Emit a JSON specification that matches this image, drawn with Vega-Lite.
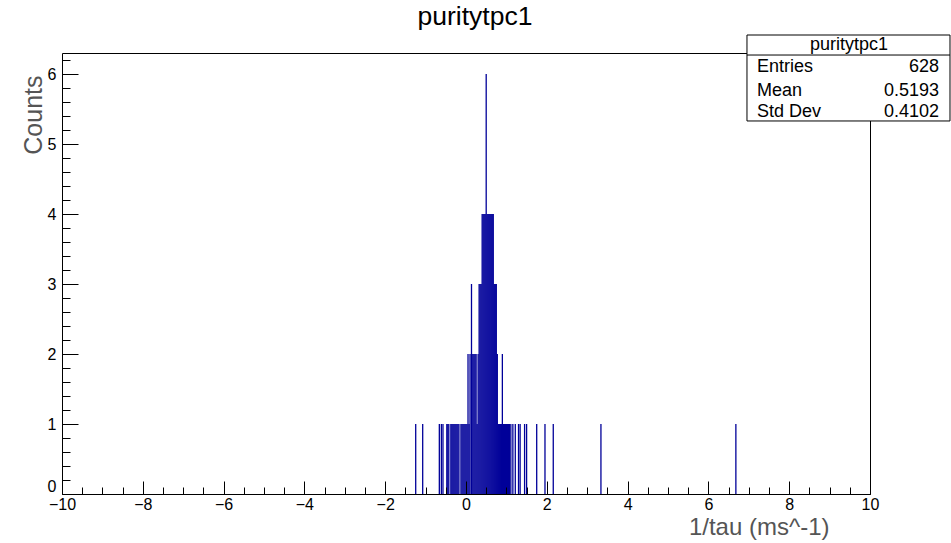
{
  "$schema": "https://vega.github.io/schema/vega-lite/v6.json",
  "width": 808,
  "height": 441,
  "autosize": {"type": "none"},
  "padding": {"left": 62, "top": 53, "right": 81, "bottom": 49},
  "background": "white",
  "config": {
    "view": {"stroke": null},
    "font": "Liberation Sans",
    "axis": {"grid": false, "labelFont": "Liberation Sans", "titleFont": "Liberation Sans", "titleFontWeight": "normal", "labelColor": "black", "tickColor": "black", "domainColor": "black", "tickWidth": 1, "domainWidth": 1},
    "text": {"font": "Liberation Sans"}
  },
  "title": {"text": "puritytpc1", "font": "Liberation Sans", "fontSize": 26.5, "fontWeight": "normal", "color": "black", "anchor": "middle", "frame": "group", "dx": 9, "offset": 4},
  "datasets": {
    "hist": [
      {"x": -1.245, "n": 1}, {"x": -1.072, "n": 1}, {"x": -0.66, "n": 1}, {"x": -0.61, "n": 1}, {"x": -0.57, "n": 1},
      {"x": -0.475, "n": 1}, {"x": -0.45, "n": 1}, {"x": -0.425, "n": 1}, {"x": -0.375, "n": 1}, {"x": -0.35, "n": 1},
      {"x": -0.325, "n": 1}, {"x": -0.3, "n": 1}, {"x": -0.275, "n": 1}, {"x": -0.25, "n": 1}, {"x": -0.225, "n": 1},
      {"x": -0.2, "n": 1}, {"x": -0.175, "n": 1}, {"x": -0.125, "n": 1}, {"x": -0.1, "n": 1}, {"x": -0.075, "n": 1},
      {"x": -0.05, "n": 1}, {"x": -0.025, "n": 1}, {"x": 0.0, "n": 1}, {"x": 0.025, "n": 1}, {"x": 0.05, "n": 2},
      {"x": 0.075, "n": 1}, {"x": 0.1, "n": 2}, {"x": 0.136, "n": 3}, {"x": 0.15, "n": 2}, {"x": 0.175, "n": 2},
      {"x": 0.2, "n": 2}, {"x": 0.225, "n": 2}, {"x": 0.25, "n": 2}, {"x": 0.275, "n": 1}, {"x": 0.3, "n": 2},
      {"x": 0.325, "n": 3}, {"x": 0.35, "n": 3}, {"x": 0.375, "n": 3}, {"x": 0.4, "n": 4}, {"x": 0.425, "n": 4},
      {"x": 0.45, "n": 4}, {"x": 0.475, "n": 4}, {"x": 0.5, "n": 6}, {"x": 0.525, "n": 4}, {"x": 0.55, "n": 4},
      {"x": 0.575, "n": 4}, {"x": 0.6, "n": 4}, {"x": 0.625, "n": 4}, {"x": 0.65, "n": 4}, {"x": 0.675, "n": 4},
      {"x": 0.7, "n": 3}, {"x": 0.725, "n": 3}, {"x": 0.75, "n": 3}, {"x": 0.775, "n": 2}, {"x": 0.8, "n": 1},
      {"x": 0.825, "n": 1}, {"x": 0.85, "n": 1}, {"x": 0.875, "n": 1}, {"x": 0.9, "n": 2}, {"x": 0.925, "n": 1},
      {"x": 0.95, "n": 1}, {"x": 0.975, "n": 1}, {"x": 1.0, "n": 1}, {"x": 1.025, "n": 1}, {"x": 1.05, "n": 1},
      {"x": 1.075, "n": 1}, {"x": 1.11, "n": 1}, {"x": 1.16, "n": 1}, {"x": 1.22, "n": 1}, {"x": 1.3, "n": 1},
      {"x": 1.34, "n": 1}, {"x": 1.45, "n": 1}, {"x": 1.5, "n": 1}, {"x": 1.75, "n": 1}, {"x": 1.955, "n": 1},
      {"x": 2.16, "n": 1}, {"x": 3.34, "n": 1}, {"x": 6.68, "n": 1}
    ],
    "stats": [{"name": "puritytpc1", "entries": 628, "mean": 0.5193, "std": 0.4102}]
  },
  "layer": [
    {
      "data": {"name": "hist"},
      "mark": {"type": "rule", "color": "#000099", "strokeWidth": 1.3},
      "encoding": {
        "x": {"field": "x", "type": "quantitative", "scale": {"domain": [-10, 10], "nice": false, "zero": false},
          "axis": {"orient": "bottom", "values": [-10, -8, -6, -4, -2, 0, 2, 4, 6, 8, 10], "labels": false, "ticks": true, "tickSize": -13, "domain": true, "title": null, "zindex": 1}},
        "y": {"field": "n", "type": "quantitative", "scale": {"domain": [0, 6.3], "nice": false, "zero": true},
          "axis": {"orient": "left", "values": [0, 1, 2, 3, 4, 5, 6], "labels": false, "ticks": true, "tickSize": -16, "domain": true, "title": null, "zindex": 1}},
        "y2": {"datum": 0}
      }
    },
    {
      "data": {"name": "stats"},
      "mark": {"type": "rect", "fill": "white", "stroke": "black", "strokeWidth": 1},
      "encoding": {
        "x": {"datum": 6.955, "type": "quantitative",
          "axis": {"orient": "bottom", "values": [-10, -9.5, -9, -8.5, -8, -7.5, -7, -6.5, -6, -5.5, -5, -4.5, -4, -3.5, -3, -2.5, -2, -1.5, -1, -0.5, 0, 0.5, 1, 1.5, 2, 2.5, 3, 3.5, 4, 4.5, 5, 5.5, 6, 6.5, 7, 7.5, 8, 8.5, 9, 9.5, 10], "labels": false, "ticks": true, "tickSize": -7, "domain": false, "title": null, "zindex": 1}},
        "x2": {"datum": 11.98},
        "y": {"datum": 6.557, "type": "quantitative",
          "axis": {"orient": "left", "values": [0.2, 0.4, 0.6, 0.8, 1.2, 1.4, 1.6, 1.8, 2.2, 2.4, 2.6, 2.8, 3.2, 3.4, 3.6, 3.8, 4.2, 4.4, 4.6, 4.8, 5.2, 5.4, 5.6, 5.8, 6.2], "labels": false, "ticks": true, "tickSize": -8, "domain": false, "title": null, "zindex": 1}},
        "y2": {"datum": 5.329}
      }
    },
    {
      "data": {"name": "stats"},
      "mark": {"type": "text", "fontSize": 18, "color": "black", "align": "center", "baseline": "middle"},
      "encoding": {
        "text": {"field": "name"},
        "x": {"datum": 9.48, "type": "quantitative",
          "axis": {"orient": "bottom", "values": [-10, -8, -6, -4, -2, 0, 2, 4, 6, 8, 10], "labels": true, "ticks": false, "domain": false, "labelFontSize": 16, "labelPadding": 2, "labelFlush": false, "labelBaseline": "top",
            "title": "1/tau (ms^-1)", "titleFontSize": 24, "titleColor": "#555555", "titleAlign": "right", "titleAnchor": "end", "titleBaseline": "alphabetic", "titleX": 767, "titleY": 40, "zindex": 1}},
        "y": {"datum": 6.414, "type": "quantitative",
          "axis": {"orient": "left", "values": [0, 1, 2, 3, 4, 5, 6], "labels": true, "ticks": false, "domain": false, "labelFontSize": 16, "labelPadding": 6, "labelFlush": true,
            "title": "Counts", "titleFontSize": 25, "titleColor": "#555555", "titleAngle": 270, "titleAlign": "right", "titleAnchor": "end", "titleBaseline": "alphabetic", "titleX": -21, "titleY": 22, "zindex": 1}}
      }
    },
    {
      "data": {"name": "stats"},
      "mark": {"type": "rule", "color": "black", "strokeWidth": 1},
      "encoding": {
        "x": {"datum": 6.955, "type": "quantitative",
          "axis": {"orient": "top", "labels": false, "ticks": false, "domain": true, "title": null, "zindex": 0}},
        "x2": {"datum": 11.98},
        "y": {"datum": 6.271, "type": "quantitative",
          "axis": {"orient": "right", "labels": false, "ticks": false, "domain": true, "title": null, "zindex": 0}}
      }
    },
    {
      "data": {"name": "stats"},
      "mark": {"type": "text", "text": "Entries", "fontSize": 18, "color": "black", "align": "left", "baseline": "middle"},
      "encoding": {"x": {"datum": 7.203, "type": "quantitative", "axis": null}, "y": {"datum": 6.096, "type": "quantitative", "axis": null}}
    },
    {
      "data": {"name": "stats"},
      "mark": {"type": "text", "text": "Mean", "fontSize": 18, "color": "black", "align": "left", "baseline": "middle"},
      "encoding": {"x": {"datum": 7.203, "type": "quantitative", "axis": null}, "y": {"datum": 5.761, "type": "quantitative", "axis": null}}
    },
    {
      "data": {"name": "stats"},
      "mark": {"type": "text", "text": "Std Dev", "fontSize": 18, "color": "black", "align": "left", "baseline": "middle"},
      "encoding": {"x": {"datum": 7.203, "type": "quantitative", "axis": null}, "y": {"datum": 5.461, "type": "quantitative", "axis": null}}
    },
    {
      "data": {"name": "stats"},
      "mark": {"type": "text", "fontSize": 18, "color": "black", "align": "right", "baseline": "middle"},
      "encoding": {"text": {"field": "entries", "type": "quantitative", "format": "d"}, "x": {"datum": 11.708, "type": "quantitative", "axis": null}, "y": {"datum": 6.096, "type": "quantitative", "axis": null}}
    },
    {
      "data": {"name": "stats"},
      "mark": {"type": "text", "fontSize": 18, "color": "black", "align": "right", "baseline": "middle"},
      "encoding": {"text": {"field": "mean", "type": "quantitative", "format": ".4f"}, "x": {"datum": 11.708, "type": "quantitative", "axis": null}, "y": {"datum": 5.761, "type": "quantitative", "axis": null}}
    },
    {
      "data": {"name": "stats"},
      "mark": {"type": "text", "fontSize": 18, "color": "black", "align": "right", "baseline": "middle"},
      "encoding": {"text": {"field": "std", "type": "quantitative", "format": ".4f"}, "x": {"datum": 11.708, "type": "quantitative", "axis": null}, "y": {"datum": 5.461, "type": "quantitative", "axis": null}}
    }
  ],
  "resolve": {"axis": {"x": "independent", "y": "independent"}}
}
